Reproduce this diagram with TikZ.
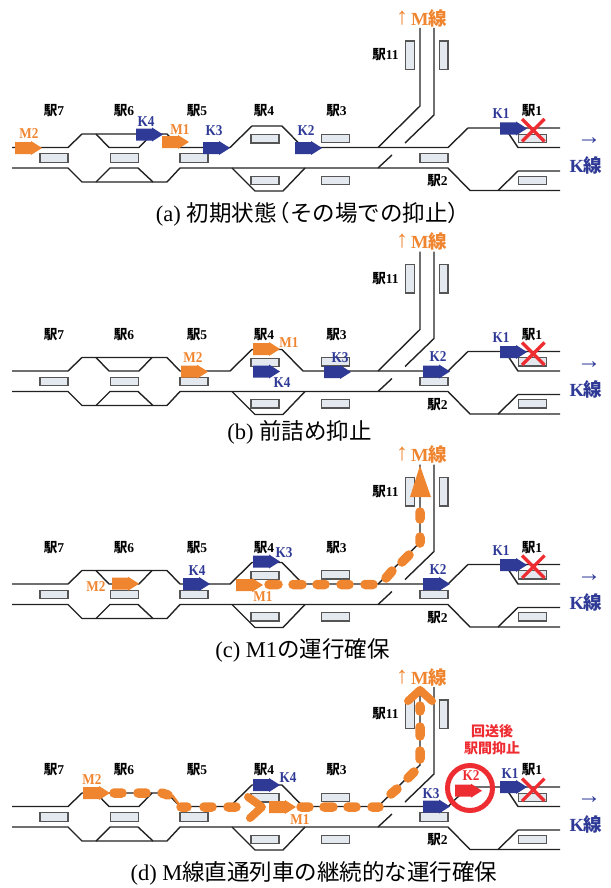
\documentclass[tikz,border=0pt]{standalone}
\usepackage{fontspec}
\setmainfont{Liberation Serif}
\newfontfamily\jp{Noto Sans CJK JP}
\newfontfamily\latb[FakeStretch=0.88]{Liberation Serif Bold}
\definecolor{orT}{HTML}{F08530}
\definecolor{blT}{HTML}{2F3A96}
\definecolor{rdT}{HTML}{EE2D32}
\definecolor{platF}{HTML}{E3E9EE}
\definecolor{trk}{HTML}{222222}
\definecolor{platD}{HTML}{555555}
\tikzset{
  track/.style={draw=trk,line width=1.4pt},
  platbox/.style={draw=platD,fill=platF,line width=1.2pt,minimum width=28pt,minimum height=8.3pt,inner sep=0pt,outer sep=0pt},
  vplat/.style={draw=platD,fill=platF,line width=1.2pt,minimum width=8.3pt,minimum height=28.5pt,inner sep=0pt,outer sep=0pt},
  stn/.style={inner sep=0pt,text=black,font=\fontsize{13.5}{14}\selectfont},
  lblK/.style={inner sep=0pt,text=blT,font=\fontsize{15}{15}\selectfont\latb},
  lblM/.style={inner sep=0pt,text=orT,font=\fontsize{15}{15}\selectfont\latb},
  lineM/.style={inner sep=0pt,text=orT,font=\fontsize{18.5}{19}\selectfont},
  lineK/.style={inner sep=0pt,text=blT,font=\fontsize{18.5}{19}\selectfont},
  capt/.style={inner sep=0pt,text=black,font=\fontsize{22.5}{24}\selectfont},
  dashO/.style={draw=orT,line width=9.5pt,line cap=round},
  headO/.style={draw=orT,line width=8pt,line cap=round,line join=round},
  redX/.style={draw=rdT,line width=3.2pt},
}
\newcommand{\train}[3]{\fill[#3,shift={(#1,#2)}] (0,-6)--(16,-6)--(16,-7)--(27,0)--(16,7)--(16,6)--(0,6)--cycle;}
\newcommand{\stnlabel}[4]{\node[stn] (#1) at (#2,#3) {{\jp\bfseries 駅}\textbf{#4}};}
\newcommand{\panelbase}[1]{%
  \draw[track] (12,147.5)--(68,147.5)--(82,134)--(167,134)--(180,147.5)--(230,147.5)--(252,126)--(282,126)--(303,147.5)--(448,147.5)--(468,128)--(560,128);
  \draw[track] (96,134)--(109,147.5)--(139,147.5)--(152,134);
  \draw[track] (505,128)--(518,147.5)--(560,147.5);
  \draw[track] (12,168)--(68,168)--(82,182)--(167,182)--(180,168)--(448,168)--(470,190.5)--(560,190.5);
  \draw[track] (96,182)--(110,168)--(138,168)--(153,182);
  \draw[track] (232,168)--(255,191)--(283,191)--(305,168);
  \draw[track] (498,190.5)--(518,171)--(560,171);
  \draw[track] (420,28)--(420,106)--(378,147.5);
  \draw[track] (434,28)--(434,115)--(405,143);
  \draw[track] (392,155)--(378,168);
  \foreach \n/\x/\y in {p7/54/158,p6/124.5/158,p5/194/158,p4u/265/138.8,p4d/265/180.3,p3u/335.5/138.3,p3d/335.5/180.3,p2/434/158,p1u/532.5/138.3,p1d/532.5/180.3}
    \node[platbox] (#1\n) at (\x,\y) {};
  \node[vplat] (#1pa) at (410,55.3) {};
  \node[vplat] (#1pb) at (443.8,55.3) {};
  \stnlabel{#1s7}{54}{111}{7}
  \stnlabel{#1s6}{124}{111}{6}
  \stnlabel{#1s5}{197}{111}{5}
  \stnlabel{#1s4}{264}{111}{4}
  \stnlabel{#1s3}{336.5}{111}{3}
  \stnlabel{#1s11}{385.5}{55}{11}
  \stnlabel{#1s2}{437.5}{181}{2}
  \stnlabel{#1s1}{532}{111}{1}
  \node[lineM] (#1lm) at (429,18) {\textbf{M}{\jp\bfseries 線}};
  \node[lineM,font=\fontsize{24}{24}\selectfont] (#1la) at (402,18) {↑};
  \node[lineK] (#1lk) at (586,165.5) {\textbf{K}{\jp\bfseries 線}};
  \node[lineK,font=\fontsize{24}{24}\selectfont] (#1lr) at (589,141.5) {→};
}
\begin{document}
\begin{tikzpicture}[x=1pt,y=-1pt]
\useasboundingbox (0,0) rectangle (610,888);
% ---------- (a)
\panelbase{a}
\train{15}{148}{orT}\train{136}{134.5}{blT}\train{162}{142}{orT}\train{203}{148}{blT}\train{295}{148}{blT}\train{500}{128.5}{blT}
\draw[redX] (522,119)--(544.5,141.5) (544.5,119)--(522,141.5);
\node[lblM] (aM2) at (29,134) {M2};
\node[lblK] (aK4) at (146,122) {K4};
\node[lblM] (aM1) at (180,130) {M1};
\node[lblK] (aK3) at (214,131) {K3};
\node[lblK] (aK2) at (306,131) {K2};
\node[lblK] (aK1) at (501,114) {K1};
\node[capt] (acap) at (308.5,214) {(a) {\jp 初期状態\kern-0.4em（その場での抑止）\kern-0.4em}};
% ---------- (b)
\begin{scope}[shift={(0,223.5)}]
\panelbase{b}
\end{scope}
\train{181}{371.7}{orT}\train{253}{349}{orT}\train{253}{371.5}{blT}\train{324}{372}{blT}\train{423}{371.5}{blT}\train{500}{352}{blT}
\draw[redX] (522,342.5)--(544.5,365) (544.5,342.5)--(522,365);
\node[lblM] (bM2) at (193,358) {M2};
\node[lblM] (bM1) at (289,343) {M1};
\node[lblK] (bK4) at (282,383) {K4};
\node[lblK] (bK3) at (340,357.5) {K3};
\node[lblK] (bK2) at (438,357) {K2};
\node[lblK] (bK1) at (501,338) {K1};
\node[capt] (bcap) at (299.5,432) {(b) {\jp 前詰め抑止}};
% ---------- (c)
\begin{scope}[shift={(0,436.5)}]
\panelbase{c}
\end{scope}
\train{112}{583.7}{orT}\train{183}{584}{blT}\train{253}{561.5}{blT}\train{236}{585}{orT}\train{423}{584}{blT}\train{500}{565}{blT}
\draw[redX] (522,555.5)--(544.5,578) (544.5,555.5)--(522,578);
\draw[dashO] (269,584.5)--(278,584.5) (293,584.5)--(302,584.5) (317,584.5)--(325,584.5) (341,584.5)--(349,584.5) (365,584.5)--(373,584.5)
  (386,578)--(392,571) (402,562)--(409,555) (420,543)--(420,537) (420,519)--(420,512);
\fill[orT] (420,465.5)--(431,497)--(410,497)--cycle;
\node[lblM] (cM2) at (96,587) {M2};
\node[lblK] (cK4) at (197,570.5) {K4};
\node[lblK] (cK3) at (284,553) {K3};
\node[lblM] (cM1) at (263,596.5) {M1};
\node[lblK] (cK2) at (438,570) {K2};
\node[lblK] (cK1) at (501,551) {K1};
\node[capt] (ccap) at (302.5,650) {(c) M1{\jp の運行確保}};
% ---------- (d)
\begin{scope}[shift={(0,659)}]
\panelbase{d}
\end{scope}
\train{83}{793}{orT}\train{269}{807}{orT}\train{253}{785}{blT}\train{423}{806.5}{blT}\train{500}{787}{blT}
\draw[redX] (522,778.5)--(544.5,801) (544.5,778.5)--(522,801);
\draw[dashO] (114,793)--(122,793) (138,793)--(146,793) (162,793)--(168,795) (181,807)--(187,807) (204,807)--(212,807) (228,807)--(236,807)
  (301,807)--(309,807) (324,807)--(333,807) (348,807)--(356,807) (372,807)--(379,807)
  (391,794)--(397,789) (408,778)--(414,772) (420,759)--(420,751) (420,736)--(420,727) (420,711)--(420,706);
\draw[orT,line width=2.5pt] (172,795)--(180,806);
\draw[headO] (248,797)--(262,807)--(250,818);
\draw[headO] (408,701)--(420,690)--(432,701);
\draw[draw=rdT,line width=5pt] (470,788) circle (22.5);
\train{455}{790.7}{rdT}
\node[lblM] (dM2) at (92,780) {M2};
\node[lblK] (dK4) at (288,778) {K4};
\node[lblM] (dM1) at (300,820) {M1};
\node[lblK] (dK3) at (431,794) {K3};
\node[lblK,text=rdT] (dK2) at (471,776) {K2};
\node[lblK] (dK1) at (510,774) {K1};
\node[inner sep=0pt,text=rdT,font=\fontsize{14}{14}\selectfont\jp\bfseries] (dt1) at (492,731) {回送後};
\node[inner sep=0pt,text=rdT,font=\fontsize{14}{14}\selectfont\jp\bfseries] (dt2) at (492,748) {駅間抑止};
\node[capt] (dcap) at (314,873) {(d) M{\jp 線直通列車の継続的な運行確保}};
\end{tikzpicture}
\end{document}
